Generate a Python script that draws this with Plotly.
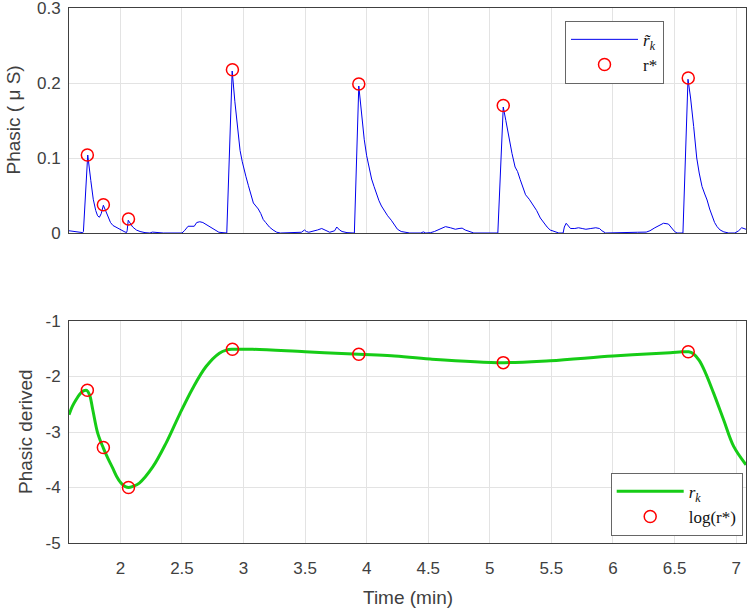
import plotly.graph_objects as go

# ---- data ----
phasic_t = [1.583, 1.62, 1.66, 1.695, 1.700, 1.735, 1.76, 1.78, 1.80, 1.815, 1.83, 1.845, 1.862,
            1.88, 1.90, 1.92, 1.94, 1.96, 1.98, 2.00, 2.03, 2.05, 2.055, 2.064, 2.08, 2.10, 2.13,
            2.16, 2.20, 2.24, 2.26, 2.29, 2.35, 2.50, 2.52, 2.55, 2.58, 2.60, 2.62, 2.645, 2.67,
            2.70, 2.73, 2.76, 2.80, 2.864, 2.908, 2.93, 2.95, 2.972, 2.99, 3.00, 3.02, 3.04, 3.06,
            3.08, 3.10, 3.12, 3.14, 3.16, 3.18, 3.21, 3.24, 3.27, 3.30, 3.45, 3.47, 3.495, 3.51,
            3.53, 3.56, 3.60, 3.635, 3.66, 3.68, 3.70, 3.74, 3.757, 3.78, 3.80, 3.84, 3.90, 3.936,
            3.96, 3.98, 4.00, 4.02, 4.04, 4.06, 4.08, 4.10, 4.12, 4.14, 4.17, 4.20, 4.23, 4.25,
            4.28, 4.32, 4.35, 4.44, 4.46, 4.48, 4.52, 4.55, 4.60, 4.64, 4.68, 4.72, 4.75, 4.775,
            4.80, 4.83, 4.87, 5.065, 5.109, 5.13, 5.152, 5.18, 5.205, 5.225, 5.247, 5.27, 5.29,
            5.32, 5.355, 5.38, 5.41, 5.44, 5.465, 5.49, 5.52, 5.56, 5.595, 5.605, 5.62, 5.64,
            5.655, 5.69, 5.72, 5.75, 5.78, 5.82, 5.86, 5.89, 5.91, 5.94, 6.18, 6.20, 6.27, 6.30,
            6.34, 6.38, 6.41, 6.45, 6.48, 6.50, 6.52, 6.568, 6.609, 6.63, 6.655, 6.68, 6.70,
            6.723, 6.745, 6.764, 6.785, 6.804, 6.825, 6.845, 6.87, 6.90, 6.94, 6.99, 7.02, 7.045,
            7.065, 7.08]
phasic_r = [0.003, 0.002, 0.001, 0.0005, 0.002, 0.104, 0.070, 0.045, 0.030, 0.023, 0.021, 0.026, 0.037,
            0.029, 0.021, 0.014, 0.010, 0.008, 0.006, 0.004, 0.002, 0.0005, 0.003, 0.017, 0.013, 0.008, 0.004,
            0.002, 0.0005, 0.0, 0.0012, 0.0005, 0.0, 0.0, 0.003, 0.009, 0.009, 0.009, 0.014, 0.015, 0.014,
            0.011, 0.007, 0.004, 0.001, 0.0, 0.216, 0.175, 0.140, 0.110, 0.095, 0.087, 0.075, 0.063, 0.050,
            0.040, 0.036, 0.032, 0.026, 0.018, 0.014, 0.008, 0.004, 0.001, 0.0, 0.0, 0.001, 0.004, 0.002,
            0.001, 0.002, 0.004, 0.006, 0.004, 0.002, 0.001, 0.003, 0.008, 0.004, 0.002, 0.0005, 0.0, 0.196,
            0.155, 0.125, 0.103, 0.086, 0.072, 0.062, 0.052, 0.043, 0.036, 0.030, 0.023, 0.017, 0.010, 0.005,
            0.002, 0.0005, 0.0, 0.0, 0.0015, 0.0, 0.0005, 0.002, 0.006, 0.0085, 0.007, 0.005, 0.006, 0.0065,
            0.004, 0.002, 0.0, 0.0, 0.168, 0.150, 0.128, 0.106, 0.088, 0.082, 0.071, 0.060, 0.051,
            0.045, 0.037, 0.030, 0.020, 0.013, 0.008, 0.004, 0.002, 0.0, 0.0, 0.008, 0.013, 0.009,
            0.006, 0.006, 0.007, 0.006, 0.005, 0.006, 0.007, 0.006, 0.003, 0.0, 0.0, 0.001, 0.0012, 0.003,
            0.007, 0.011, 0.013, 0.012, 0.006, 0.002, 0.0, 0.0, 0.205, 0.180, 0.142, 0.100, 0.080,
            0.062, 0.052, 0.044, 0.032, 0.022, 0.014, 0.0085, 0.004, 0.0015, 0.0, 0.0, 0.003, 0.007,
            0.006, 0.005]

peak_t = [1.732, 1.862, 2.066, 2.910, 3.936, 5.109, 6.611]
peak_r = [0.104, 0.0377, 0.0187, 0.2177, 0.1987, 0.170, 0.2067]
peak_log_r = [-2.249, -3.28, -4.0, -1.51, -1.60, -1.75, -1.553]

derived_t = [1.583, 1.61, 1.64, 1.67, 1.70, 1.727, 1.75, 1.776, 1.816, 1.862, 1.90, 1.938, 1.97,
             2.005, 2.04, 2.068, 2.10, 2.154, 2.263, 2.371, 2.479, 2.588, 2.696, 2.804, 2.86,
             2.907, 3.075, 3.5, 3.936, 4.2, 4.516, 5.109, 5.49, 6.0, 6.465, 6.56, 6.614, 6.65,
             6.70, 6.75, 6.817, 6.898, 6.98, 7.08]
derived_r = [-2.69, -2.54, -2.42, -2.32, -2.26, -2.25, -2.33, -2.60, -3.02, -3.29, -3.48, -3.65, -3.80,
             -3.92, -3.985, -4.00, -3.98, -3.92, -3.63, -3.20, -2.69, -2.21, -1.82, -1.58, -1.525,
             -1.51, -1.51, -1.555, -1.60, -1.625, -1.685, -1.75, -1.715, -1.63, -1.57, -1.556, -1.555, -1.585,
             -1.71, -1.93, -2.30, -2.78, -3.26, -3.59]

x_range = [1.583, 7.08]
x_ticks = [2, 2.5, 3, 3.5, 4, 4.5, 5, 5.5, 6, 6.5, 7]
x_tick_text = ["2", "2.5", "3", "3.5", "4", "4.5", "5", "5.5", "6", "6.5", "7"]
y1_range = [0, 0.3]
y1_ticks = [0, 0.1, 0.2, 0.3]
y1_tick_text = ["0", "0.1", "0.2", "0.3"]
y2_range = [-5, -1]
y2_ticks = [-5, -4, -3, -2, -1]
y2_tick_text = ["-5", "-4", "-3", "-2", "-1"]

# ---- figure ----
W, H = 750, 613
ML, MR, MT, MB = 69, 4, 8, 70
pw = W - ML - MR
ph = H - MT - MB
top_dom = [(H - MB - 233) / ph, 1.0]
bot_dom = [0.0, (H - MB - 321) / ph]

SERIF = "Liberation Serif"
SANS = "Liberation Sans, Arial, Helvetica, sans-serif"
AX = "#404040"
GRID = "#e3e3e3"
CLEAR = "rgba(0,0,0,0)"
tick_font = dict(family=SANS, size=17, color=AX)

fig = go.Figure()
fig.add_trace(go.Scatter(x=phasic_t, y=phasic_r, mode="lines", xaxis="x", yaxis="y",
                         line=dict(color="#0000ee", width=1),
                         name="<i>r̃</i><sub><i>k</i></sub>", legend="legend"))
fig.add_trace(go.Scatter(x=peak_t, y=peak_r, mode="markers", xaxis="x", yaxis="y",
                         marker=dict(symbol="circle-open", size=12, color="#ff0000",
                                     line=dict(width=1.5, color="#ff0000")),
                         name="r*", legend="legend"))
fig.add_trace(go.Scatter(x=derived_t, y=derived_r, mode="lines", xaxis="x2", yaxis="y2",
                         line=dict(color="#16cc16", width=3, shape="spline", smoothing=1.0),
                         name="<i>r</i><sub><i>k</i></sub>", legend="legend2"))
fig.add_trace(go.Scatter(x=peak_t, y=peak_log_r, mode="markers", xaxis="x2", yaxis="y2",
                         marker=dict(symbol="circle-open", size=12, color="#ff0000",
                                     line=dict(width=1.5, color="#ff0000")),
                         name="log(r*)", legend="legend2"))

# main axes: grid, frame line, labels (pushed away with transparent outside ticks)
def main_axis(rng, vals, text, dom=None, anchor=None, labels=True, is_x=True):
    d = dict(range=rng, tickvals=vals, ticktext=text, showline=True, linecolor=AX, linewidth=1,
             mirror=True, ticks="outside", ticklen=10 if is_x else 4, tickcolor=CLEAR,
             showgrid=True, gridcolor=GRID, gridwidth=1, zeroline=False, automargin=False,
             ticklabeloverflow="allow", tickfont=tick_font, showticklabels=labels, anchor=anchor)
    if dom is not None:
        d["domain"] = dom
    return d

# overlay axes: the visible inside ticks, mirrored on the opposite side
def tick_axis(rng, vals, overlaying, anchor):
    return dict(range=rng, tickvals=vals, overlaying=overlaying, anchor=anchor,
                showline=True, linecolor=AX, linewidth=1, mirror="ticks",
                ticks="inside", ticklen=6, tickcolor=AX, tickwidth=1,
                showgrid=False, zeroline=False, showticklabels=False, automargin=False)

title_font = dict(family=SANS, size=19, color=AX)
annotations = [
    dict(text="Phasic ( μ S)", xref="paper", yref="paper", x=0, xshift=13 - ML,
         y=(top_dom[0] + top_dom[1]) / 2, textangle=-90, showarrow=False,
         xanchor="center", yanchor="middle", font=title_font),
    dict(text="Phasic derived", xref="paper", yref="paper", x=0, xshift=25 - ML,
         y=(bot_dom[0] + bot_dom[1]) / 2, textangle=-90, showarrow=False,
         xanchor="center", yanchor="middle", font=title_font),
    dict(text="Time (min)", xref="paper", yref="paper", x=0.5, y=0, yshift=-(597 - (H - MB)),
         showarrow=False, xanchor="center", yanchor="middle", font=title_font),
]

legend_common = dict(bgcolor="white", bordercolor="#666666", borderwidth=1,
                     font=dict(family=SERIF, size=17, color="#111111"),
                     itemwidth=67, tracegroupgap=0)

fig.update_layout(
    width=W, height=H,
    margin=dict(l=ML, r=MR, t=MT, b=MB),
    paper_bgcolor="white", plot_bgcolor="white",
    showlegend=True,
    annotations=annotations,
    xaxis=main_axis(x_range, x_ticks, x_tick_text, anchor="y", labels=False),
    yaxis=main_axis(y1_range, y1_ticks, y1_tick_text, dom=top_dom, anchor="x", is_x=False),
    xaxis2=main_axis(x_range, x_ticks, x_tick_text, anchor="y2"),
    yaxis2=main_axis(y2_range, y2_ticks, y2_tick_text, dom=bot_dom, anchor="x2", is_x=False),
    xaxis3=tick_axis(x_range, x_ticks, "x", "y"),
    yaxis3=tick_axis(y1_range, y1_ticks, "y", "x"),
    xaxis4=tick_axis(x_range, x_ticks, "x2", "y2"),
    yaxis4=tick_axis(y2_range, y2_ticks, "y2", "x2"),
    legend=dict(legend_common, x=(565 - ML) / pw, y=(H - MB - 52.3) / ph,
                xanchor="left", yanchor="middle"),
    legend2=dict(legend_common, x=(742.7 - ML) / pw, y=(H - MB - 504.3) / ph,
                 xanchor="right", yanchor="middle"),
)

fig.write_html("out.html", config={"displayModeBar": False},
               post_script="document.body.style.margin='0px';")
